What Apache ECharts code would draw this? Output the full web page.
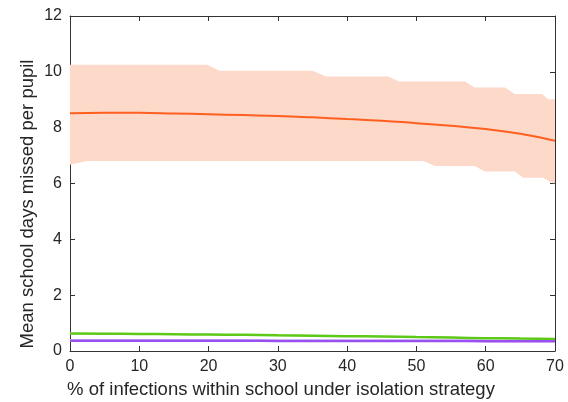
<!DOCTYPE html>
<html>
<head>
<meta charset="utf-8">
<script src="https://cdn.jsdelivr.net/npm/echarts@6/dist/echarts.min.js"></script>
<style>
  html, body { margin: 0; padding: 0; background: #fff; }
  #chart { width: 568px; height: 402px; }
</style>
</head>
<body>
<div id="chart"></div>
<script>
// band breakpoints (x) with upper / lower bounds of the orange interval
var bandX = [0, 2.4, 19.8, 21.6, 35, 37, 45.9, 47.5, 51, 52.7, 57, 58.4, 59.9, 62.8, 64.2, 65.4, 68.1, 68.3, 69, 69.7, 70];
var bandUpper = [10.25, 10.25, 10.25, 10.04, 10.04, 9.83, 9.83, 9.65, 9.65, 9.65, 9.65, 9.44, 9.44, 9.44, 9.21, 9.21, 9.21, 9.17, 9.02, 9.02, 9.02];
var bandLower = [6.67, 6.81, 6.81, 6.81, 6.81, 6.81, 6.81, 6.81, 6.81, 6.63, 6.63, 6.63, 6.43, 6.43, 6.43, 6.21, 6.21, 6.21, 6.11, 6.01, 6.01];

// mean lines
var lineX = [0, 5, 10, 15, 20, 25, 30, 35, 40, 45, 50, 55, 60, 65, 70];
var orangeMean = [8.52, 8.53, 8.53, 8.51, 8.48, 8.45, 8.42, 8.37, 8.31, 8.25, 8.16, 8.07, 7.95, 7.78, 7.53];
var greenMean = [0.63, 0.62, 0.61, 0.60, 0.59, 0.58, 0.56, 0.55, 0.53, 0.52, 0.50, 0.48, 0.46, 0.45, 0.43];
var purpleMean = [0.37, 0.37, 0.37, 0.37, 0.37, 0.37, 0.36, 0.36, 0.36, 0.36, 0.36, 0.36, 0.35, 0.35, 0.35];
var greenLow = [0.60, 0.59, 0.58, 0.57, 0.56, 0.55, 0.53, 0.52, 0.50, 0.49, 0.47, 0.45, 0.43, 0.42, 0.40];
var greenHigh = [0.66, 0.65, 0.64, 0.63, 0.62, 0.61, 0.59, 0.58, 0.56, 0.55, 0.53, 0.51, 0.49, 0.48, 0.46];
var purpleLow = [0.33, 0.33, 0.33, 0.33, 0.33, 0.33, 0.32, 0.32, 0.32, 0.32, 0.32, 0.32, 0.31, 0.31, 0.31];
var purpleHigh = [0.43, 0.43, 0.43, 0.43, 0.43, 0.43, 0.42, 0.42, 0.42, 0.42, 0.42, 0.42, 0.41, 0.41, 0.41];

function pairs(xs, ys) {
  return xs.map(function (x, i) { return [x, ys[i]]; });
}

var axisColor = '#333';
var font = 'Liberation Sans, Arial, sans-serif';

// filled band between lo and hi, drawn as one polygon through the axis scales
function bandSeries(name, xs, lo, hi, color) {
  return {
    name: name + 'Band', type: 'custom', silent: true, z: 1,
    data: [[xs[0], lo[0]]],
    renderItem: function (params, api) {
      var pts = [];
      for (var i = 0; i < xs.length; i++) pts.push(api.coord([xs[i], hi[i]]));
      for (var j = xs.length - 1; j >= 0; j--) pts.push(api.coord([xs[j], lo[j]]));
      return {
        type: 'polygon',
        shape: { points: pts },
        style: { fill: color, stroke: null }
      };
    }
  };
}

var chart = echarts.init(document.getElementById('chart'));
chart.setOption({
  animation: false,
  grid: { left: 70, right: 13, top: 16, bottom: 51 },
  xAxis: [
    {
      type: 'value', min: 0, max: 70, interval: 10,
      axisLine: { show: true, lineStyle: { color: axisColor, width: 1 } },
      axisTick: { show: true, inside: true, length: 5, lineStyle: { color: axisColor } },
      axisLabel: { color: '#262626', fontSize: 16, fontFamily: font, margin: 8 },
      splitLine: { show: false }
    },
    {
      type: 'value', position: 'top', min: 0, max: 70, interval: 10,
      axisLine: { show: true, onZero: false, lineStyle: { color: axisColor, width: 1 } },
      axisTick: { show: true, inside: true, length: 5, lineStyle: { color: axisColor } },
      axisLabel: { show: false },
      splitLine: { show: false }
    }
  ],
  yAxis: [
    {
      type: 'value', min: 0, max: 12, interval: 2,
      axisLine: { show: true, lineStyle: { color: axisColor, width: 1 } },
      axisTick: { show: true, inside: true, length: 5, lineStyle: { color: axisColor } },
      axisLabel: { color: '#262626', fontSize: 16, fontFamily: font, margin: 8 },
      splitLine: { show: false }
    },
    {
      type: 'value', position: 'right', min: 0, max: 12, interval: 2,
      axisLine: { show: true, onZero: false, lineStyle: { color: axisColor, width: 1 } },
      axisTick: { show: true, inside: true, length: 5, lineStyle: { color: axisColor } },
      axisLabel: { show: false },
      splitLine: { show: false }
    }
  ],
  graphic: [
    {
      type: 'text', x: 281, y: 390,
      style: {
        text: '% of infections within school under isolation strategy',
        fill: '#262626', font: '18.5px ' + font, align: 'center', verticalAlign: 'middle'
      }
    },
    {
      type: 'text', x: 28, y: 204, rotation: Math.PI / 2,
      style: {
        text: 'Mean school days missed per pupil',
        fill: '#262626', font: '18.5px ' + font, align: 'center', verticalAlign: 'middle'
      }
    }
  ],
  series: [
    bandSeries('orange', bandX, bandLower, bandUpper, '#FDD9CA'),
    bandSeries('green', lineX, greenLow, greenHigh, '#CDEFB8'),
    bandSeries('purple', lineX, purpleLow, purpleHigh, '#D6D2F7'),
    {
      name: 'orange', type: 'line', data: pairs(lineX, orangeMean), smooth: true,
      symbol: 'none', lineStyle: { color: '#FF5F1F', width: 2 }, z: 3
    },
    {
      name: 'green', type: 'line', data: pairs(lineX, greenMean), smooth: true,
      symbol: 'none', lineStyle: { color: '#5FC91A', width: 2.5 }, z: 3
    },
    {
      name: 'purple', type: 'line', data: pairs(lineX, purpleMean), smooth: true,
      symbol: 'none', lineStyle: { color: '#9A4FF0', width: 2.5 }, z: 3
    }
  ]
});
</script>
</body>
</html>
